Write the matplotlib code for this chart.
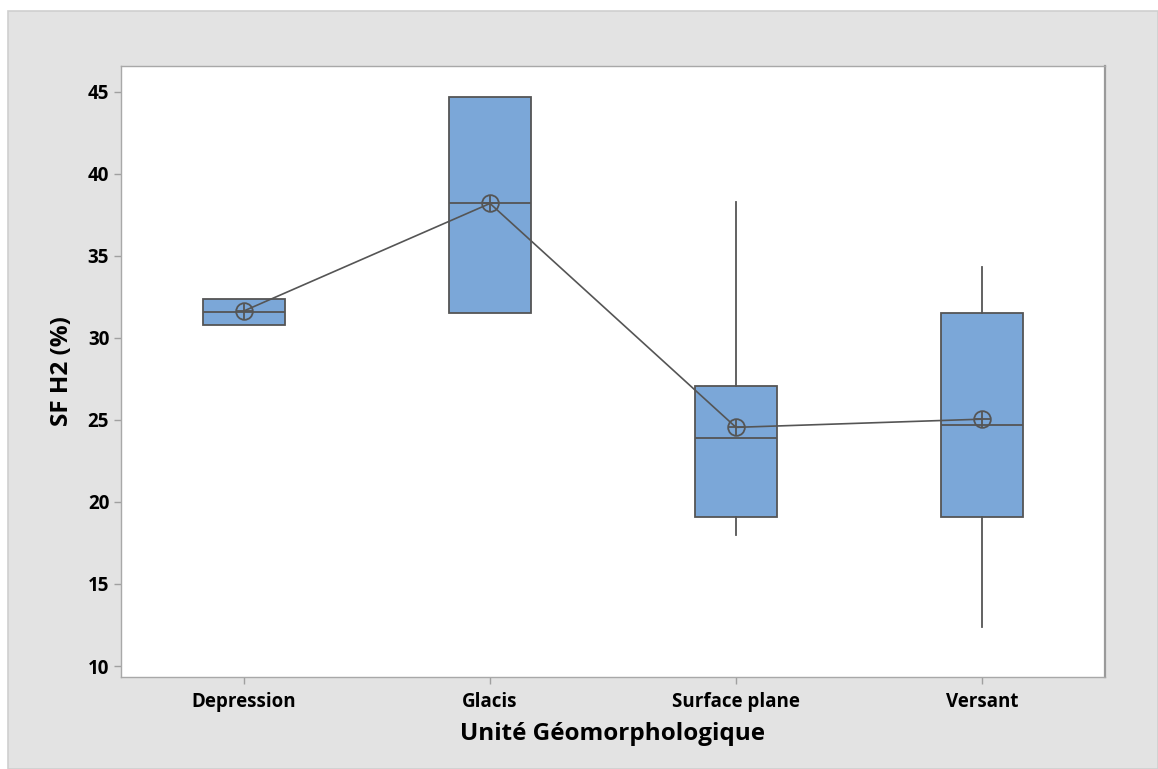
import matplotlib.pyplot as plt
from matplotlib.patches import Rectangle

# boxplot summary per geomorphological unit
units = ['Depression', 'Glacis', 'Surface plane', 'Versant']
q1 = [30.8, 31.5, 19.1, 19.1]
median = [31.6, 38.2, 23.9, 24.7]
q3 = [32.4, 44.7, 27.1, 31.5]
whislo = [30.8, 31.5, 18.0, 12.4]
whishi = [32.4, 44.7, 38.3, 34.3]
means = [31.65, 38.2, 24.55, 25.05]

plt.rcParams['font.family'] = ['Open Sans', 'DejaVu Sans']

fig = plt.figure(figsize=(11.58, 7.69), dpi=100)
fig.patch.set_facecolor('white')
# grey panel behind the plot
panel = Rectangle((8 / 1158, 0), 1 - 8 / 1158, 1 - 11 / 769,
                  transform=fig.transFigure, facecolor='#e3e3e3',
                  edgecolor='#cfcfcf', linewidth=1.2, zorder=-10)
fig.add_artist(panel)

ax = fig.add_axes([121 / 1158, 1 - 677 / 769, (1105 - 121) / 1158, (677 - 66) / 769])
ax.set_facecolor('white')

stats = []
for i in range(len(units)):
    stats.append({'label': units[i], 'q1': q1[i], 'med': median[i], 'q3': q3[i],
                  'whislo': whislo[i], 'whishi': whishi[i], 'fliers': []})

edge = '#555555'
pos = list(range(1, len(units) + 1))
ax.bxp(stats, positions=pos, widths=0.333, patch_artist=True, showcaps=False,
       boxprops=dict(facecolor='#7ba7d8', edgecolor=edge, linewidth=1.3),
       medianprops=dict(color=edge, linewidth=1.3),
       whiskerprops=dict(color=edge, linewidth=1.3), zorder=2)

# mean connect line with circle-plus symbols
ax.plot(pos, means, color=edge, linewidth=1.2, zorder=3)
ax.plot(pos, means, linestyle='none', marker='o', markersize=12,
        markerfacecolor='none', markeredgecolor=edge, markeredgewidth=1.3, zorder=4)
ax.plot(pos, means, linestyle='none', marker='+', markersize=12,
        markeredgecolor=edge, markeredgewidth=1.3, zorder=4)

ax.set_xlim(0.5, 4.5)
ax.set_ylim(9.33, 46.58)
ax.set_yticks([10, 15, 20, 25, 30, 35, 40, 45])
ax.set_xticks(pos)
ax.set_xticklabels(units)

for s in ['left', 'bottom', 'top']:
    ax.spines[s].set_color('#a8a8a8')
    ax.spines[s].set_linewidth(1.0)
ax.spines['right'].set_color('#9a9a9a')
ax.spines['right'].set_linewidth(1.6)

ax.tick_params(axis='both', colors='#a0a0a0', length=5, width=1.0,
               labelcolor='black', labelsize=13.5)
ax.tick_params(axis='x', pad=6)
for lab in ax.get_xticklabels() + ax.get_yticklabels():
    lab.set_fontweight('bold')

ax.set_xlabel('Unité Géomorphologique', fontsize=17.5, fontweight='bold', labelpad=7)
ax.set_ylabel('SF H2 (%)', fontsize=17.5, fontweight='bold', labelpad=10)

fig.savefig('out.png', dpi=100, facecolor=fig.get_facecolor())
